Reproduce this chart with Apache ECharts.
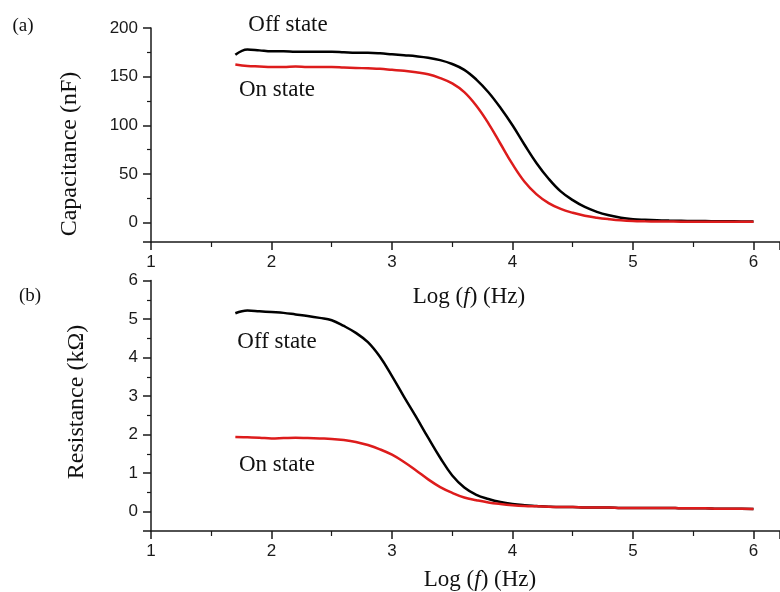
<!DOCTYPE html>
<html>
<head>
<meta charset="utf-8">
<script src="https://cdn.jsdelivr.net/npm/echarts@6.0.0/dist/echarts.min.js"></script>
<style>
  html, body { margin: 0; padding: 0; background: #fff; }
  #main { width: 780px; height: 592px; }
</style>
</head>
<body>
<div id="main"></div>
<script>
// log(f) sampling points, shared by both panels
var logF = [1.7, 1.8, 1.9, 2.0, 2.1, 2.2, 2.3, 2.4, 2.5, 2.6, 2.7, 2.8, 2.9, 3.0, 3.1,
            3.2, 3.3, 3.4, 3.5, 3.6, 3.7, 3.8, 3.9, 4.0, 4.1, 4.2, 4.3, 4.4, 4.5, 4.6,
            4.7, 4.8, 4.9, 5.0, 5.1, 5.2, 5.3, 5.4, 5.5, 5.6, 5.7, 5.8, 5.9, 6.0];

// (a) capacitance, nF
var capOff = [172.5, 178, 177, 176, 176, 175.5, 175.5, 175.5, 175.5, 175, 174.5, 174.5, 174, 173, 172,
              171, 169.5, 167, 163, 157, 147, 134, 118, 100, 80, 61, 45, 32, 23, 16,
              11, 7.5, 5, 3.5, 2.8, 2.3, 2.0, 1.8, 1.6, 1.5, 1.4, 1.3, 1.2, 1.2];
var capOn = [162.5, 161, 160.5, 160, 160, 160.5, 160, 160, 160, 159.5, 159, 158.5, 158, 157, 156,
             154.5, 152.5, 148.5, 143, 134, 120, 102, 81, 60, 42, 29, 20, 14, 10, 7,
             5, 3.5, 2.3, 1.6, 1.3, 1.1, 1.0, 0.9, 0.9, 0.8, 0.8, 0.8, 0.8, 0.8];

// (b) resistance, kOhm
var resOff = [5.15, 5.22, 5.2, 5.18, 5.16, 5.12, 5.08, 5.03, 4.97, 4.82, 4.64, 4.40, 4.02, 3.52, 2.98,
              2.46, 1.92, 1.40, 0.94, 0.63, 0.44, 0.33, 0.25, 0.2, 0.17, 0.15, 0.13, 0.12, 0.12, 0.11,
              0.11, 0.11, 0.1, 0.1, 0.1, 0.1, 0.1, 0.09, 0.09, 0.09, 0.08, 0.08, 0.08, 0.07];
var resOn = [1.94, 1.93, 1.92, 1.9, 1.91, 1.92, 1.91, 1.9, 1.89, 1.86, 1.81, 1.73, 1.62, 1.48, 1.29,
             1.07, 0.84, 0.64, 0.49, 0.37, 0.3, 0.24, 0.2, 0.17, 0.15, 0.14, 0.13, 0.12, 0.12, 0.11,
             0.11, 0.11, 0.1, 0.1, 0.1, 0.1, 0.1, 0.09, 0.09, 0.09, 0.08, 0.08, 0.08, 0.07];

var pairs = function (ys) {
  return logF.map(function (x, i) { return [x, ys[i]]; });
};

var axisColor = '#1a1a1a';
var serif = '"Liberation Serif", "Times New Roman", serif';
var sans = '"Liberation Sans", Arial, sans-serif';

var xAxisBase = {
  type: 'value',
  min: 1,
  max: 6.22,
  interval: 1,
  axisLine: { onZero: false, lineStyle: { color: axisColor, width: 1.5 } },
  axisTick: { length: 8, lineStyle: { color: axisColor, width: 1.5 } },
  minorTick: { show: true, splitNumber: 2, length: 5, lineStyle: { color: axisColor, width: 1.2 } },
  splitLine: { show: false },
  axisLabel: { color: '#1a1a1a', fontSize: 17, fontFamily: sans, margin: 12, showMaxLabel: false }
};

var yAxisBase = {
  type: 'value',
  axisLine: { show: true, onZero: false, lineStyle: { color: axisColor, width: 1.5 } },
  axisTick: { show: true, length: 8, lineStyle: { color: axisColor, width: 1.5 } },
  minorTick: { show: true, splitNumber: 2, length: 4, lineStyle: { color: axisColor, width: 1.2 } },
  splitLine: { show: false },
  axisLabel: { color: '#1a1a1a', fontSize: 17, fontFamily: sans, margin: 13, showMinLabel: false }
};

var lineBase = {
  type: 'line',
  showSymbol: false,
  smooth: 0.4,
  animation: false
};

function label(text, x, y, size, rotation) {
  return {
    type: 'text',
    x: x,
    y: y,
    rotation: rotation || 0,
    style: {
      text: text,
      fill: '#111',
      font: size + 'px ' + serif,
      align: 'center',
      verticalAlign: 'middle'
    }
  };
}

function xName(x, y) {
  return {
    type: 'text',
    x: x,
    y: y,
    style: {
      text: '{n|Log (}{i|f}{n|) (Hz)}',
      align: 'center',
      verticalAlign: 'middle',
      rich: {
        n: { fontFamily: serif, fontSize: 23, fill: '#111' },
        i: { fontFamily: serif, fontSize: 23, fontStyle: 'italic', fill: '#111' }
      }
    }
  };
}

var chart = echarts.init(document.getElementById('main'));
chart.setOption({
  animation: false,
  backgroundColor: '#fff',
  grid: [
    { left: 151, right: 0, top: 28, height: 214 },
    { left: 151, right: 0, top: 280.5, height: 250.5 }
  ],
  xAxis: [
    Object.assign({ gridIndex: 0 }, xAxisBase),
    Object.assign({ gridIndex: 1 }, xAxisBase)
  ],
  yAxis: [
    Object.assign({ gridIndex: 0, min: -20, max: 200 }, yAxisBase),
    Object.assign({ gridIndex: 1, min: -0.5, max: 6 }, yAxisBase)
  ],
  series: [
    Object.assign({ name: 'Off state (a)', xAxisIndex: 0, yAxisIndex: 0, data: pairs(capOff),
      lineStyle: { color: '#000', width: 2.5 } }, lineBase),
    Object.assign({ name: 'On state (a)', xAxisIndex: 0, yAxisIndex: 0, data: pairs(capOn),
      lineStyle: { color: '#dd1c1c', width: 2.5 } }, lineBase),
    Object.assign({ name: 'Off state (b)', xAxisIndex: 1, yAxisIndex: 1, data: pairs(resOff),
      lineStyle: { color: '#000', width: 2.5 } }, lineBase),
    Object.assign({ name: 'On state (b)', xAxisIndex: 1, yAxisIndex: 1, data: pairs(resOn),
      lineStyle: { color: '#dd1c1c', width: 2.5 } }, lineBase)
  ],
  graphic: [
    label('(a)', 23, 26, 19),
    label('(b)', 30, 296, 19),
    label('Off state', 288, 25, 23),
    label('On state', 277, 90, 23),
    label('Off state', 277, 342, 23),
    label('On state', 277, 465, 23),
    label('Capacitance (nF)', 70, 154, 24, Math.PI / 2),
    label('Resistance (k\u03a9)', 77, 402, 24, Math.PI / 2),
    xName(469, 297),
    xName(480, 580)
  ]
});
</script>
</body>
</html>
